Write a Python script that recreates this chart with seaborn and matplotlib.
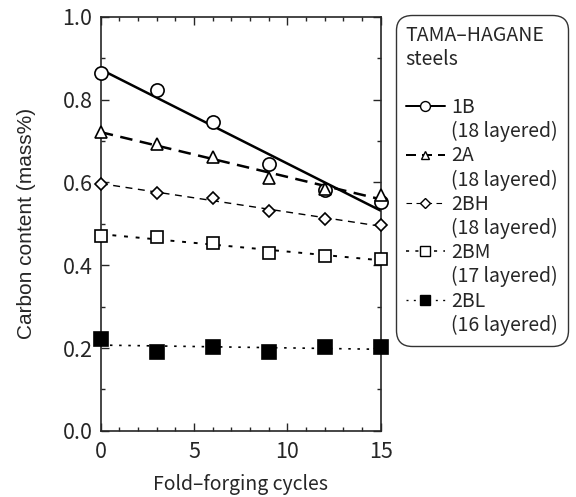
import matplotlib
matplotlib.use("Agg")
import matplotlib.pyplot as plt
import numpy as np
import pandas as pd
import seaborn as sns
from matplotlib.lines import Line2D
from matplotlib.ticker import MultipleLocator, FormatStrFormatter

cycles = [0, 3, 6, 9, 12, 15]
c_1b = [0.865, 0.824, 0.746, 0.645, 0.582, 0.553]
c_2a = [0.722, 0.693, 0.662, 0.611, 0.585, 0.570]
c_2bh = [0.597, 0.575, 0.563, 0.531, 0.512, 0.497]
c_2bm = [0.471, 0.469, 0.454, 0.430, 0.423, 0.415]
c_2bl = [0.222, 0.191, 0.203, 0.191, 0.203, 0.203]

steels = ["1B", "2A", "2BH", "2BM", "2BL"]
layers = [18, 18, 18, 17, 16]

sns.set_style("ticks")
plt.rcParams["font.family"] = ["Noto Sans CJK JP", "DejaVu Sans"]

styles = {
    "1B": dict(marker="o", mfc="white", ms=9.5, lw=1.8, dashes=None),
    "2A": dict(marker="^", mfc="white", ms=8, lw=1.8, dashes=(5, 3)),
    "2BH": dict(marker="D", mfc="white", ms=6.5, lw=1.0, dashes=(5, 4)),
    "2BM": dict(marker="s", mfc="white", ms=9, lw=1.4, dashes=(2, 4)),
    "2BL": dict(marker="s", mfc="black", ms=10, lw=1.2, dashes=(1.5, 4)),
}

data = pd.DataFrame({
    "cycles": cycles * 5,
    "carbon": c_1b + c_2a + c_2bh + c_2bm + c_2bl,
    "steel": np.repeat(steels, len(cycles)),
})

fig = plt.figure(figsize=(5.76, 4.97), dpi=100)
ax = fig.add_axes([0.175, 0.133, 0.486, 0.833])

for name in steels:
    sub = data[data["steel"] == name]
    st = styles[name]
    line_kws = dict(color="black", lw=st["lw"])
    if st["dashes"] is not None:
        line_kws["dashes"] = st["dashes"]
    sns.regplot(data=sub, x="cycles", y="carbon", ax=ax, ci=None,
                scatter=False, line_kws=line_kws)
    ax.plot(sub["cycles"], sub["carbon"], ls="none", marker=st["marker"],
            ms=st["ms"], mfc=st["mfc"], mec="black", mew=1.2, clip_on=False,
            zorder=5)

ax.set_xlim(0, 15)
ax.set_ylim(0, 1.0)
ax.xaxis.set_major_locator(MultipleLocator(5))
ax.xaxis.set_minor_locator(MultipleLocator(1))
ax.yaxis.set_major_locator(MultipleLocator(0.2))
ax.yaxis.set_minor_locator(MultipleLocator(0.1))
ax.yaxis.set_major_formatter(FormatStrFormatter("%.1f"))
ax.tick_params(which="both", direction="in", top=True, right=True,
               labelsize=15.5, width=1.0)
ax.tick_params(which="major", length=6)
ax.tick_params(axis="x", which="major", pad=7)
ax.tick_params(axis="y", which="major", pad=6)
ax.tick_params(which="minor", length=3)
for sp in ax.spines.values():
    sp.set_linewidth(1.2)

ax.set_xlabel("Fold\u2013forging cycles", fontsize=14)
ax.set_ylabel("Carbon content (mass%)", fontsize=15,
              family=["Liberation Sans", "DejaVu Sans"])
ax.xaxis.set_label_coords(0.5, -0.105)
ax.yaxis.set_label_coords(-0.23, 0.5)

blank = Line2D([], [], color="none")
handles = [blank]
labels = [" "]
for name, n in zip(steels, layers):
    st = styles[name]
    h = Line2D([], [], color="black", lw=st["lw"] * 0.8,
               marker=st["marker"], ms=st["ms"] * 0.75, mfc=st["mfc"],
               mec="black")
    if st["dashes"] is not None:
        h.set_dashes(st["dashes"])
    handles += [h, blank]
    labels += [name, f"({n} layered)"]

leg = fig.legend(handles, labels, title="TAMA\u2013HAGANE\nsteels",
                 loc="upper left", bbox_to_anchor=(0.6875, 0.970),
                 frameon=True, fancybox=True, edgecolor="black",
                 fontsize=14, title_fontsize=14, handlelength=2.0,
                 handletextpad=0.35, labelspacing=0.16, borderpad=0.5,
                 borderaxespad=0, alignment="left")
leg.get_frame().set_linewidth(1.0)
leg.get_frame().set_boxstyle("round,pad=0,rounding_size=0.8")

fig.savefig("out.png", dpi=100)
